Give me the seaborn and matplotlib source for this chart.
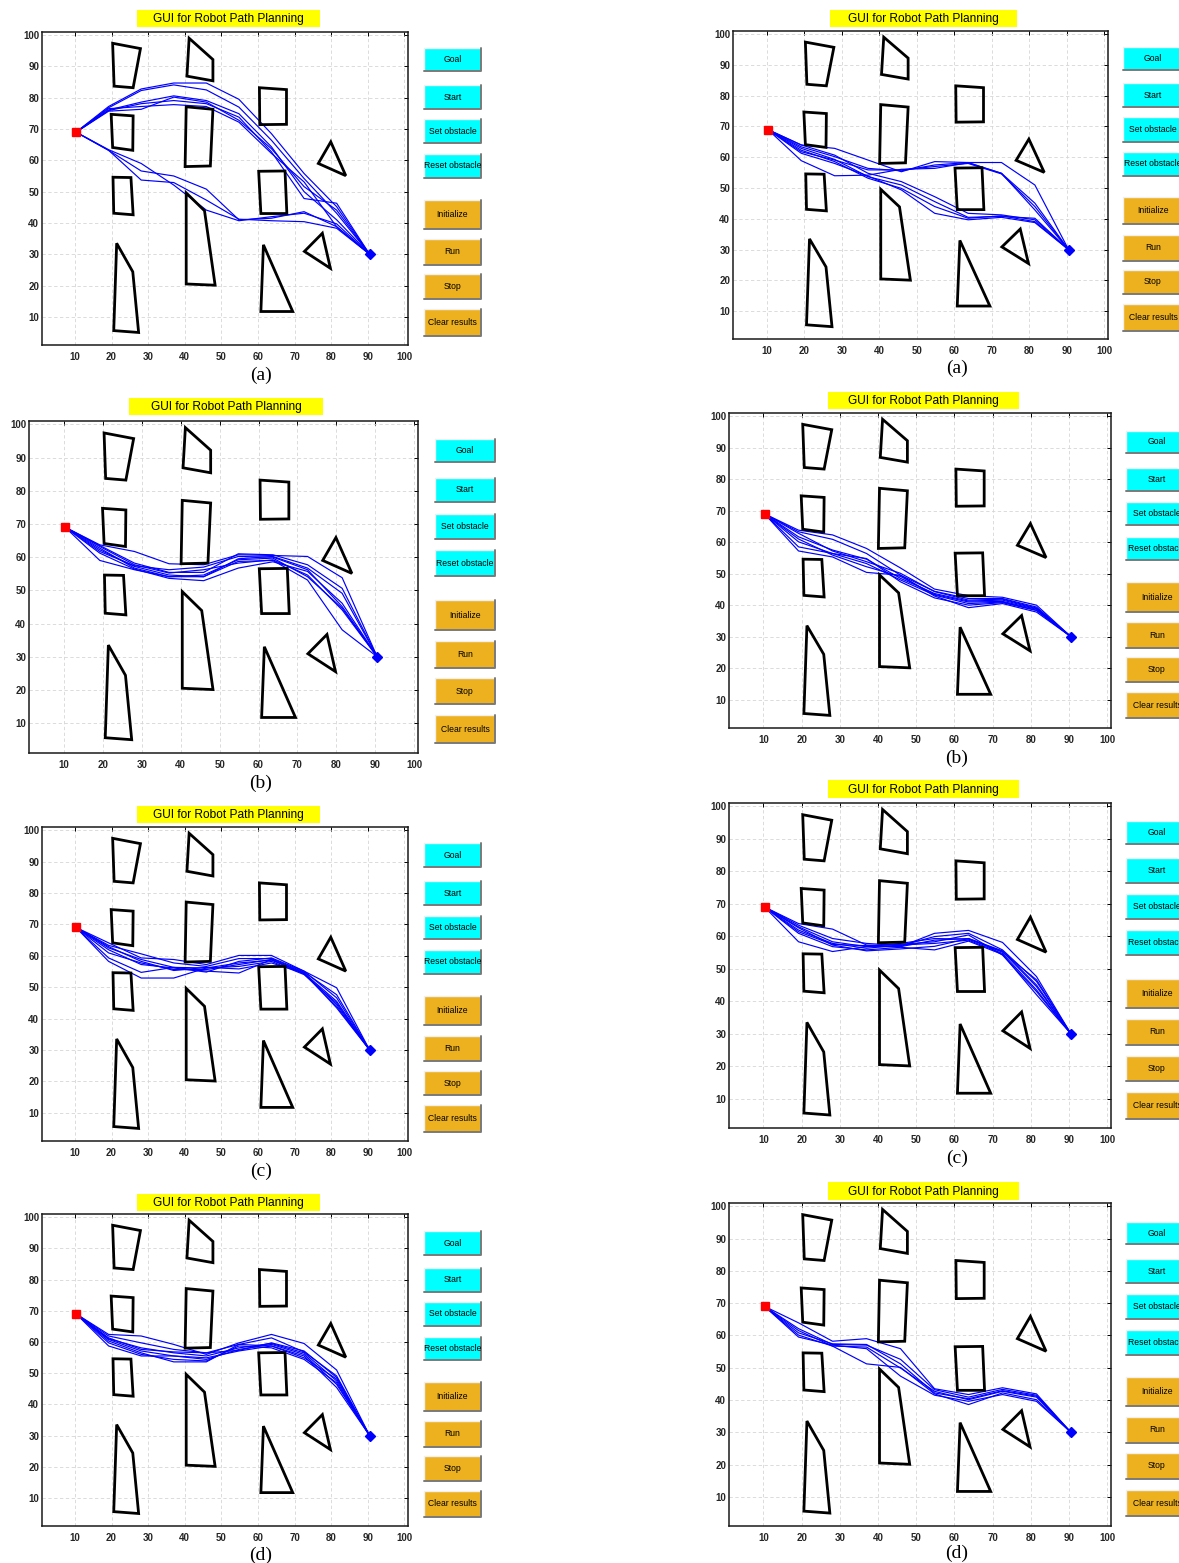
# %% load modules

import matplotlib

matplotlib.use("Agg")
import matplotlib.pyplot as plt
import numpy as np
import pandas as pd
import seaborn as sns
from matplotlib.patches import Polygon, Rectangle

sns.set_theme(style="white")
plt.rcParams["font.family"] = ["Liberation Sans", "DejaVu Sans"]

W, H = 1179, 1563

# %% data: environment

start = (10.3, 69.0)
goal = (90.5, 30.0)
path_x = [10.3, 19.2, 28.1, 37.0, 45.9, 54.8, 63.7, 72.6, 81.5, 90.5]

obstacles = [
    [(20.3, 97.4), (27.9, 95.7), (25.9, 83.2), (20.7, 83.7)],
    [(41.2, 99.0), (47.7, 92.2), (47.7, 85.4), (40.6, 86.9)],
    [(60.4, 83.2), (67.8, 82.6), (67.8, 71.5), (60.5, 71.4)],
    [(19.9, 74.7), (25.9, 74.2), (25.8, 63.2), (20.3, 64.1)],
    [(40.4, 77.1), (47.7, 76.3), (47.0, 58.2), (40.1, 58.0)],
    [(79.9, 65.9), (84.0, 55.1), (76.5, 59.0)],
    [(20.4, 54.6), (25.3, 54.5), (25.9, 42.6), (20.6, 43.1)],
    [(60.2, 56.5), (67.4, 56.6), (67.9, 43.0), (60.8, 43.0)],
    [(40.4, 49.6), (45.4, 43.9), (48.3, 20.1), (40.4, 20.5)],
    [(77.6, 36.7), (79.8, 25.5), (72.7, 30.9)],
    [(21.4, 33.5), (25.8, 24.4), (27.4, 5.0), (20.6, 5.6)],
    [(61.5, 33.0), (69.5, 11.7), (60.8, 11.7)],
]

# %% data: intermediate waypoints (y at path_x[1:-1]) of each path

paths_a_left = [
    [77.2, 82.8, 84.7, 84.7, 79.5, 68.5, 55.8, 45.2],
    [76.8, 82.3, 84.1, 82.5, 77.0, 66.4, 54.2, 43.1],
    [76.1, 78.6, 80.6, 79.1, 74.9, 64.3, 50.0, 41.0],
    [75.9, 78.1, 79.1, 78.1, 73.8, 62.7, 47.8, 46.3],
    [76.5, 77.2, 77.8, 77.2, 72.2, 62.2, 53.1, 38.8],
    [75.7, 76.3, 80.2, 78.6, 72.8, 63.7, 51.6, 44.1],
    [63.2, 56.6, 55.0, 50.8, 41.0, 41.5, 43.6, 38.8],
    [63.2, 53.7, 52.9, 47.3, 41.2, 40.7, 40.4, 38.3],
    [63.4, 59.0, 52.1, 44.1, 40.7, 42.0, 43.1, 39.7],
]
paths_a_right = [
    [64.0, 62.9, 59.1, 55.3, 58.6, 58.3, 58.3, 51.0],
    [63.4, 60.2, 56.4, 55.6, 57.5, 58.3, 54.8, 45.1],
    [61.8, 59.1, 55.9, 55.9, 57.0, 58.0, 54.6, 44.0],
    [58.9, 54.0, 54.2, 56.1, 56.4, 58.2, 54.8, 42.9],
    [64.0, 60.7, 54.8, 52.1, 47.2, 41.8, 41.3, 39.7],
    [62.9, 59.3, 53.7, 51.0, 45.6, 40.5, 40.8, 40.2],
    [62.3, 58.6, 53.2, 49.9, 44.0, 40.2, 41.0, 39.1],
    [61.3, 58.0, 53.9, 49.4, 41.8, 39.7, 40.5, 38.8],
]
paths_b_left = [
    [63.7, 61.7, 58.0, 57.7, 60.7, 60.5, 60.2, 53.8],
    [63.5, 58.2, 55.4, 55.4, 61.0, 60.7, 57.7, 50.6],
    [62.2, 57.2, 54.6, 54.1, 59.5, 60.2, 56.7, 49.1],
    [61.2, 56.4, 53.6, 52.9, 56.7, 58.6, 55.7, 46.1],
    [59.0, 56.2, 54.1, 54.6, 59.2, 59.7, 54.1, 44.6],
    [63.2, 57.7, 55.2, 56.2, 58.2, 59.2, 54.6, 44.1],
    [62.7, 56.7, 54.1, 54.1, 58.7, 59.0, 53.1, 38.1],
    [61.7, 57.4, 56.2, 57.0, 60.2, 60.0, 56.2, 45.1],
]
paths_b_right = [
    [63.8, 62.3, 58.0, 51.8, 45.1, 43.0, 42.5, 40.0],
    [63.3, 60.9, 56.4, 49.5, 44.4, 42.1, 42.1, 39.4],
    [61.7, 57.5, 54.6, 48.5, 43.7, 41.3, 41.6, 38.9],
    [60.1, 56.4, 53.2, 48.0, 43.2, 40.5, 41.0, 38.4],
    [57.2, 55.3, 50.4, 49.5, 42.9, 39.2, 40.5, 37.8],
    [62.8, 57.2, 53.8, 50.1, 44.3, 41.6, 41.9, 39.1],
    [61.0, 55.9, 52.2, 49.1, 43.4, 41.0, 41.2, 38.7],
    [58.5, 56.4, 54.8, 47.4, 42.3, 40.0, 40.8, 38.3],
]
paths_c_left = [
    [64.1, 59.3, 58.8, 57.2, 60.1, 60.1, 55.1, 49.8],
    [63.3, 60.6, 57.7, 56.6, 59.1, 59.1, 54.8, 47.6],
    [62.5, 58.8, 56.3, 56.1, 57.7, 58.6, 54.5, 45.5],
    [60.9, 57.7, 55.6, 55.6, 57.2, 58.8, 54.2, 43.9],
    [59.3, 54.7, 56.3, 55.1, 54.5, 58.8, 54.5, 43.4],
    [58.2, 52.9, 52.9, 56.1, 56.6, 58.2, 54.0, 45.0],
    [62.9, 58.2, 55.3, 56.3, 55.8, 57.7, 54.5, 44.5],
    [61.9, 57.2, 56.1, 54.8, 58.2, 59.3, 55.1, 46.6],
]
paths_c_right = [
    [63.9, 62.2, 57.3, 56.8, 60.9, 61.8, 58.1, 47.6],
    [63.4, 59.3, 57.8, 57.1, 59.9, 60.9, 55.8, 46.1],
    [62.9, 58.3, 56.8, 56.8, 58.8, 59.3, 55.3, 44.5],
    [61.9, 57.8, 56.3, 57.3, 57.8, 58.8, 54.7, 43.5],
    [60.9, 56.8, 55.8, 56.6, 55.8, 58.5, 54.4, 42.0],
    [58.3, 55.3, 56.8, 57.8, 59.3, 59.1, 55.1, 46.6],
    [62.6, 57.3, 55.5, 56.1, 56.9, 59.3, 55.5, 45.0],
    [61.4, 57.5, 57.1, 57.5, 58.3, 60.4, 54.2, 43.0],
]
paths_d_left = [
    [62.4, 61.9, 59.2, 56.0, 59.7, 62.4, 59.5, 51.0],
    [61.9, 59.7, 57.6, 56.5, 59.2, 61.3, 56.8, 49.1],
    [61.0, 58.1, 56.5, 55.5, 58.1, 59.5, 56.5, 47.5],
    [60.8, 57.1, 55.5, 54.4, 57.6, 59.2, 56.0, 46.4],
    [58.7, 55.5, 55.5, 54.9, 57.1, 58.7, 55.5, 45.4],
    [60.3, 56.5, 53.6, 53.6, 59.2, 58.7, 54.9, 48.1],
    [61.3, 57.6, 56.8, 56.5, 57.3, 59.7, 57.1, 48.6],
    [59.7, 56.0, 54.4, 53.9, 58.7, 58.1, 54.4, 46.9],
]
paths_d_right = [
    [63.9, 58.2, 59.0, 55.9, 43.5, 41.7, 43.8, 41.9],
    [62.1, 57.2, 57.0, 52.6, 43.2, 40.9, 43.3, 41.5],
    [61.5, 56.7, 56.4, 49.9, 42.7, 40.1, 42.7, 40.9],
    [60.1, 56.7, 51.2, 50.1, 41.9, 38.6, 42.2, 40.1],
    [59.5, 57.0, 55.9, 47.4, 41.5, 39.6, 41.7, 39.6],
    [60.8, 57.4, 57.2, 51.2, 42.2, 40.4, 42.9, 41.2],
]

button_names = ["Goal", "Start", "Set obstacle", "Reset obstacle",
                "Initialize", "Run", "Stop", "Clear results"]
button_colors = ["#00ffff"] * 4 + ["#edb120"] * 4

# %% layout of each GUI screenshot (pixels, origin top-left)

layout = {
    "a_left": dict(paths=paths_a_left, label="(a)", axes=(42, 32, 408, 345),
                   title=(137, 10, 320, 27), btn_x=(424, 481), caption=(261, 375),
                   btn_y=[(48, 71), (85, 109), (119, 143), (154, 178),
                          (200, 229), (239, 265), (274, 299), (309, 336)]),
    "b_left": dict(paths=paths_b_left, label="(b)", axes=(29, 421, 418, 753),
                   title=(129, 398, 323, 415), btn_x=(435, 495), caption=(261, 783),
                   btn_y=[(439, 462), (478, 502), (514, 539), (550, 576),
                          (600, 630), (641, 668), (678, 704), (715, 743)]),
    "c_left": dict(paths=paths_c_left, label="(c)", axes=(42, 827, 408, 1141),
                   title=(137, 806, 320, 823), btn_x=(424, 481), caption=(261, 1171),
                   btn_y=[(843, 867), (881, 905), (916, 939), (950, 974),
                          (996, 1025), (1036, 1061), (1071, 1095), (1105, 1132)]),
    "d_left": dict(paths=paths_d_left, label="(d)", axes=(42, 1214, 408, 1526),
                   title=(137, 1194, 320, 1211), btn_x=(424, 481), caption=(261, 1555),
                   btn_y=[(1231, 1255), (1268, 1292), (1302, 1326), (1337, 1360),
                          (1382, 1411), (1421, 1447), (1456, 1481), (1491, 1517)]),
    "a_right": dict(paths=paths_a_right, label="(a)", axes=(733, 31, 1108, 339),
                    title=(830, 10, 1017, 27), btn_x=(1123, 1183), caption=(957, 368),
                    btn_y=[(47, 70), (83, 107), (117, 142), (152, 176),
                           (197, 224), (235, 261), (270, 294), (304, 331)]),
    "b_right": dict(paths=paths_b_right, label="(b)", axes=(729, 413, 1111, 728),
                    title=(828, 392, 1019, 409), btn_x=(1126, 1188), caption=(957, 758),
                    btn_y=[(431, 453), (468, 491), (502, 525), (537, 560),
                           (582, 612), (622, 648), (657, 682), (692, 718)]),
    "c_right": dict(paths=paths_c_right, label="(c)", axes=(729, 803, 1111, 1128),
                    title=(828, 780, 1019, 798), btn_x=(1126, 1188), caption=(957, 1158),
                    btn_y=[(821, 844), (858, 883), (894, 919), (930, 955),
                           (979, 1008), (1019, 1045), (1056, 1081), (1092, 1119)]),
    "d_right": dict(paths=paths_d_right, label="(d)", axes=(729, 1203, 1111, 1526),
                    title=(828, 1182, 1019, 1200), btn_x=(1126, 1188), caption=(957, 1553),
                    btn_y=[(1222, 1244), (1259, 1283), (1294, 1319), (1330, 1355),
                           (1377, 1406), (1417, 1443), (1453, 1479), (1490, 1516)]),
}

# %% figure

fig = plt.figure(figsize=(W / 100, H / 100), dpi=100)
fig.patch.set_facecolor("white")

bg = fig.add_axes([0, 0, 1, 1])
bg.set_xlim(0, W)
bg.set_ylim(H, 0)
bg.axis("off")

ticks = list(range(10, 101, 10))

for key, lay in layout.items():
    # title bar
    tx0, ty0, tx1, ty1 = lay["title"]
    bg.add_patch(Rectangle((tx0, ty0), tx1 - tx0, ty1 - ty0, fc="#ffff00", ec="none"))
    bg.text((tx0 + tx1) / 2, (ty0 + ty1) / 2 + 0.5, "GUI for Robot Path Planning",
            ha="center", va="center", fontsize=8.6, color="black")

    # push buttons
    bx0, bx1 = lay["btn_x"]
    for name, col, (by0, by1) in zip(button_names, button_colors, lay["btn_y"]):
        bg.add_patch(Rectangle((bx0, by0), bx1 - bx0, by1 - by0, fc=col, ec="none"))
        bg.plot([bx0, bx0, bx1], [by1, by0, by0], color="#f0f0f0", lw=1.0)
        bg.plot([bx0, bx1, bx1], [by1, by1, by0], color="#7a7a7a", lw=1.4)
        bg.text((bx0 + bx1) / 2, (by0 + by1) / 2, name, ha="center", va="center",
                fontsize=6.2, color="black", clip_on=True)

    # caption
    cx, cy = lay["caption"]
    bg.text(cx, cy, lay["label"], ha="center", va="center", fontsize=14,
            family=["Liberation Serif", "DejaVu Serif"], color="black")

    # plot area
    x0, y0, x1, y1 = lay["axes"]
    ax = fig.add_axes([x0 / W, 1 - y1 / H, (x1 - x0) / W, (y1 - y0) / H])
    ax.set_facecolor("white")

    rows = []
    for i, mids in enumerate(lay["paths"]):
        ys = [start[1]] + mids + [goal[1]]
        for xv, yv in zip(path_x, ys):
            rows.append((i, xv, yv))
    df = pd.DataFrame(rows, columns=["path", "x", "y"])
    sns.lineplot(data=df, x="x", y="y", units="path", estimator=None, sort=False,
                 color="#0000ff", lw=0.85, ax=ax, legend=False)

    for poly in obstacles:
        ax.add_patch(Polygon(poly, closed=True, fill=False, ec="black", lw=2.0,
                             joinstyle="miter", zorder=3))

    ax.plot(*start, marker="s", color="red", ms=6, zorder=4)
    ax.plot(*goal, marker="D", color="blue", ms=5.5, zorder=4)

    ax.set_xlim(1, 101)
    ax.set_ylim(1, 101)
    ax.set_xticks(ticks)
    ax.set_yticks(ticks)
    ax.set_xlabel("")
    ax.set_ylabel("")
    ax.grid(True, ls=(0, (4, 3)), color="#d6d6d6", lw=0.6)
    ax.tick_params(direction="in", top=True, right=True, length=3, width=0.7,
                   labelsize=7, labelcolor="#262626", color="black")
    ax.tick_params(axis="x", pad=5)
    ax.tick_params(axis="y", pad=2)
    for lbl in ax.get_xticklabels() + ax.get_yticklabels():
        lbl.set_fontweight("bold")
    for sp in ax.spines.values():
        sp.set_color("#1a1a1a")
        sp.set_linewidth(1.1)

fig.savefig("out.png", dpi=100, facecolor="white")
